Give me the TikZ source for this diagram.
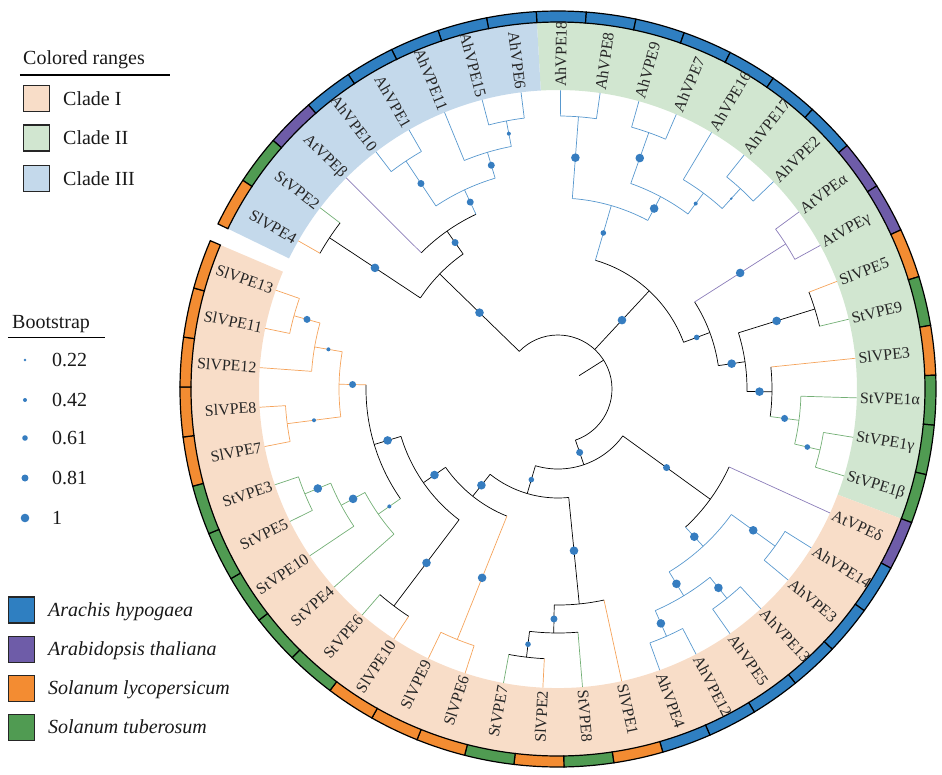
\documentclass[tikz,border=0pt]{standalone}
\usepackage{fontspec}
\setmainfont{Liberation Serif}
\definecolor{cladeI}{RGB}{248,221,200}
\definecolor{cladeII}{RGB}{209,230,208}
\definecolor{cladeIII}{RGB}{196,217,235}
\definecolor{ah}{RGB}{47,127,193}
\definecolor{at}{RGB}{110,92,168}
\definecolor{sl}{RGB}{243,140,50}
\definecolor{st}{RGB}{80,155,82}
\definecolor{dotblue}{RGB}{54,125,192}

\begin{document}
\begin{tikzpicture}[x=1pt, y=1pt,
		% Define styles for the tree and the legend
		branch/.style={line width=0.7pt},
		ring/.style={draw=black, line width=1.2pt},
		boot/.style={fill=dotblue},
		leaf label/.style={font=\fontsize{16}{19}\selectfont, text=black!85, inner sep=0pt},
		legend text/.style={font=\fontsize{20}{24}\selectfont, text=black!90, inner sep=0pt},
		swatch/.style={draw=black!85, line width=1.2pt, minimum size=26pt, inner sep=0pt}
		]
		\useasboundingbox (-558,-385) rectangle (384,389);
		
		% --- Colored ranges ---
		\fill[cladeII] (93.3:299) arc[start angle=93.3, end angle=-20.7, radius=299] -- (-20.7:367) arc[start angle=-20.7, end angle=93.3, radius=367] -- cycle;
		\fill[cladeI] (-20.7:299) arc[start angle=-20.7, end angle=-203.1, radius=299] -- (-203.1:367) arc[start angle=-203.1, end angle=-20.7, radius=367] -- cycle;
		\fill[cladeIII] (154.1:299) arc[start angle=154.1, end angle=93.3, radius=299] -- (93.3:367) arc[start angle=93.3, end angle=154.1, radius=367] -- cycle;
		
		% --- Leaves: species ring, leaf branch, label ---
		\foreach \n/\lab/\sp/\pr in {0/AhVPE18/ah/273, 1/AhVPE8/ah/273, 2/AhVPE9/ah/272, 3/AhVPE7/ah/272,
			4/AhVPE16/ah/244, 5/AhVPE17/ah/271, 6/AhVPE2/ah/271, 7/AtVPEα/at/270, 8/AtVPEγ/at/270,
			9/SlVPE5/sl/269, 10/StVPE9/st/269, 11/SlVPE3/sl/214, 12/StVPE1α/st/243, 13/StVPE1γ/st/269,
			14/StVPE1β/st/269, 15/AtVPEδ/at/188, 16/AhVPE14/ah/268, 17/AhVPE3/ah/268, 18/AhVPE13/ah/269,
			19/AhVPE5/ah/269, 20/AhVPE12/ah/270, 21/AhVPE4/ah/270, 22/SlVPE1/sl/216, 23/StVPE8/st/244,
			24/SlVPE2/sl/270, 25/StVPE7/st/270, 26/SlVPE6/sl/270, 27/SlVPE9/sl/270, 28/SlVPE10/sl/272,
			29/StVPE6/st/272, 30/StVPE4/st/219, 31/StVPE10/st/246, 32/StVPE5/st/274, 33/StVPE3/st/274,
			34/SlVPE7/sl/273, 35/SlVPE8/sl/273, 36/SlVPE12/sl/247, 37/SlVPE11/sl/274, 38/SlVPE13/sl/274,
			39/AhVPE6/ah/273, 40/AhVPE15/ah/273, 41/AhVPE11/ah/247, 42/AhVPE1/ah/274, 43/AhVPE10/ah/274,
			44/AtVPEβ/at/193, 45/StVPE2/st/274, 46/SlVPE4/sl/274}{
			\pgfmathsetmacro{\a}{\n<39 ? 89.5-7.6*\n : 89.5+7.6*(\n-38)}
			\pgfmathtruncatemacro{\flip}{(\a>90 || \a<-90) ? 1 : 0}
			\filldraw[ring, fill=\sp] ({\a+3.8}:367) arc[start angle={\a+3.8}, end angle={\a-3.8}, radius=367]
				-- ({\a-3.8}:378) arc[start angle={\a-3.8}, end angle={\a+3.8}, radius=378] -- cycle;
			\coordinate (leaf\n) at (\a:299);
			\draw[branch, \sp!80] (\a:\pr) -- (leaf\n);
			\ifnum\flip=1
				\node[leaf label, rotate={\a+180}, anchor=east] (lab\n) at (\a:302) {\lab};
			\else
				\node[leaf label, rotate=\a, anchor=west] (lab\n) at (\a:302) {\lab};
			\fi
		}
		
		% --- Root ---
		\coordinate (rootstub) at (32.3:25);
		\coordinate (root) at (32.3:54);
		\draw[branch] (rootstub) -- (root);
		
		% --- Clade arcs (radius/from/to/colour) ---
		\foreach \r/\s/\e/\c in {54/135.8/-71.15/black, 165/146.5/125.1/black, 274/150.3/142.7/black,
			193/135.1/115.15/black, 220/123.7/106.6/ah!80, 274/127.5/119.9/ah!80, 247/112.3/100.9/ah!80,
			273/104.7/97.1/ah!80, 134/73.8/20.4/black, 191/85.7/61.95/ah!80, 273/89.5/81.9/ah!80,
			218/70.5/53.4/ah!80, 272/74.3/66.7/ah!80, 244/59.1/47.7/ah!80, 271/51.5/43.9/ah!80,
			162/32.5/8.3/black, 270/36.3/28.7/at!80, 189/17.3/-0.75/black, 269/21.1/13.5/black,
			214/5.9/-7.4/black, 243/-1.7/-13.1/st!80, 269/-9.3/-16.9/st!80, 80/-35.9/-106.4/black,
			188/-24.5/-47.3/black, 214/-35.9/-58.7/ah!80, 268/-32.1/-39.7/ah!80, 242/-51.1/-66.3/ah!80,
			269/-47.3/-54.9/ah!80, 270/-62.5/-70.1/ah!80, 109/-84.35/-128.5/black, 216/-77.7/-91/black,
			244/-85.3/-96.7/black, 270/-92.9/-100.5/black, 137/-111.9/-145.15/black, 270/-108.1/-115.7/sl!80,
			164/-127.1/-163.2/black, 272/-123.3/-130.9/black, 192/-145.15/-181.25/black, 219/-138.5/-151.8/st!80,
			246/-146.1/-157.5/st!80, 274/-153.7/-161.3/st!80, 219/-172.7/-189.8/sl!80, 273/-168.9/-176.5/sl!80,
			247/-184.1/-195.5/sl!80, 274/-191.7/-199.3/sl!80}{
			\draw[branch, \c] (\s:\r) arc[start angle=\s, end angle=\e, radius=\r];
		}
		
		% --- Inner branches with bootstrap dots (name/angle/radius/parent radius/colour/dot) ---
		\foreach \nm/\a/\r/\pr/\c/\bs in {nA/135.8/165/54/black/4.3, nA1/146.5/274/165/black/4.3,
			nA2/125.1/193/165/black/3.5, nAh3/115.15/220/193/ah!80/3.5, n110/123.7/274/220/ah!80/3.5,
			n11/106.6/247/220/ah!80/3.5, n615/100.9/273/247/ah!80/2,
			nB/47.1/134/54/black/4.3, nAh2/73.8/191/134/ah!80/2.8, n188/85.7/273/191/ah!80/4.3,
			nAh9/61.95/218/191/ah!80/4.3, n97/70.5/272/218/ah!80/4.3, n16/53.4/244/218/ah!80/2,
			n172/47.7/271/244/ah!80/1.3, nB2/20.4/162/134/black/2.8, nAt/32.5/270/162/at!80/4.3,
			nB3/8.3/189/162/black/4.3, n59/17.3/269/189/black/4.3, nB4/-0.75/214/189/black/4.3,
			nB5/-7.4/243/214/st!80/3.5, nB6/-13.1/269/243/st!80/2.8,
			nC/-71.15/80/54/black/3.5, nCR/-35.9/188/80/black/3.5, nD/-47.3/214/188/ah!80/4.3,
			n143/-35.9/268/214/ah!80/4.3, nE/-58.7/242/214/ah!80/4.3, n135/-51.1/269/242/ah!80/4.3,
			n124/-66.3/270/242/ah!80/4.3, nCL/-106.4/109/80/black/2.8, nF/-84.35/216/109/black/4.3,
			nG/-91/244/216/black/3.5, nH/-96.7/270/244/black/2.8, nI/-128.5/137/109/black/4.3,
			n96/-111.9/270/137/sl!80/4.3, nK/-145.15/164/137/black/4.3, n106/-127.1/272/164/black/4.3,
			nL/-163.2/192/164/black/4.3, nM/-145.15/219/192/st!80/2, nN/-151.8/246/219/st!80/4.3,
			nO/-157.5/274/246/st!80/4.3, nP/-181.25/219/192/sl!80/3.5, n87/-172.7/273/219/sl!80/2,
			nQ/-189.8/247/219/sl!80/2, nR/-195.5/274/247/sl!80/3.5}{
			\coordinate (\nm) at (\a:\r);
			\draw[branch, \c] (\a:\pr) -- (\nm);
			\fill[boot] (\a:{(\pr+\r)/2}) circle[radius=\bs];
		}
		
		% --- Legend: colored ranges ---
		\node[legend text, anchor=base west] (rangestitle) at (-535,324) {Colored ranges};
		\coordinate (rangesruleL) at (-538,314);
		\coordinate (rangesruleR) at (-388,314);
		\draw[line width=1.2pt] (rangesruleL) -- (rangesruleR);
		\node[swatch, fill=cladeI] (swI) at (-521.5,290.5) {};
		\node[swatch, fill=cladeII] (swII) at (-521.5,251) {};
		\node[swatch, fill=cladeIII] (swIII) at (-521.5,210.5) {};
		\node[legend text, anchor=west] (txI) at (-495,290.5) {Clade I};
		\node[legend text, anchor=west] (txII) at (-495,251) {Clade II};
		\node[legend text, anchor=west] (txIII) at (-495,210.5) {Clade III};
		
		% --- Legend: bootstrap ---
		\node[legend text, anchor=base west] (boottitle) at (-546,61) {Bootstrap};
		\coordinate (bootruleL) at (-550,51.3);
		\coordinate (bootruleR) at (-453,51.3);
		\draw[line width=1.2pt] (bootruleL) -- (bootruleR);
		\foreach \y/\bs/\v in {29/1.3/0.22, -11/2/0.42, -49/2.8/0.61, -89/3.5/0.81, -129/4.3/1}{
			\fill[boot] (-533,\y) circle[radius=\bs];
			\node[legend text, anchor=west] (bv\v) at (-506,\y) {\v};
		}
		
		% --- Legend: species ---
		\node[swatch, fill=ah] (swAh) at (-536.5,-221) {};
		\node[swatch, fill=at] (swAt) at (-536.5,-260.5) {};
		\node[swatch, fill=sl] (swSl) at (-536.5,-299.5) {};
		\node[swatch, fill=st] (swSt) at (-536.5,-338.5) {};
		\node[legend text, anchor=base west] (txAh) at (-510,-227) {\itshape Arachis hypogaea};
		\node[legend text, anchor=base west] (txAt) at (-510,-266.5) {\itshape Arabidopsis thaliana};
		\node[legend text, anchor=base west] (txSl) at (-510,-305.5) {\itshape Solanum lycopersicum};
		\node[legend text, anchor=base west] (txSt) at (-510,-344.5) {\itshape Solanum tuberosum};
	\end{tikzpicture}
\end{document}
